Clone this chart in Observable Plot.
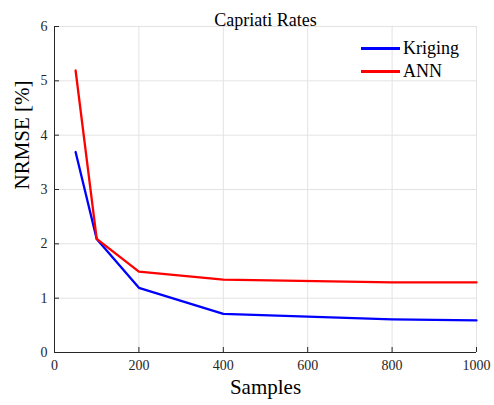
<!DOCTYPE html>
<html><head><meta charset="utf-8">
<script src="https://cdn.jsdelivr.net/npm/d3@7"></script>
<script src="https://cdn.jsdelivr.net/npm/@observablehq/plot@0.6"></script>
<style>
body{margin:0;background:#fff;}
#wrap{position:relative;width:494px;height:405px;font-family:"Liberation Serif",serif;color:#000;}
#wrap svg text{font-family:"Liberation Serif",serif;}
#legend{position:absolute;left:361px;top:37px;font-size:18px;line-height:23px;}
#legend .row{display:flex;align-items:center;height:23px;}
#legend .sw{display:inline-block;width:39px;height:2.5px;margin-right:3px;}
</style></head><body><div id="wrap"><div id="legend"></div></div>
<script>
const samples = [50, 100, 200, 400, 800, 1000];
const kriging = [3.69, 2.09, 1.19, 0.71, 0.61, 0.59];
const ann = [5.19, 2.09, 1.49, 1.34, 1.29, 1.29];
const xTicks = [0, 200, 400, 600, 800, 1000];
const yTicks = [0, 1, 2, 3, 4, 5, 6];
const seriesNames = ["Kriging", "ANN"];
const seriesColors = ["#0000ff", "#ff0000"];
const titleText = "Capriati Rates";
const xLabel = "Samples";
const yLabel = "NRMSE [%]";

const W = 494, H = 405, mL = 54, mR = 18, mT = 26, mB = 53;
const innerW = W - mL - mR, innerH = H - mT - mB;
const FONT = '"Liberation Serif", serif';

const rows = [];
[kriging, ann].forEach((vals, si) => samples.forEach((s, i) => rows.push({series: seriesNames[si], x: s, y: vals[i]})));

const axisColor = "#262626";
const gridColor = "#e3e3e3";

const chart = Plot.plot({
  width: W, height: H,
  marginLeft: mL, marginRight: mR, marginTop: mT, marginBottom: mB,
  style: {fontFamily: FONT, background: "#fff", overflow: "visible"},
  x: {domain: [0, 1000], ticks: xTicks, label: null},
  y: {domain: [0, 6], ticks: yTicks, label: null},
  color: {domain: seriesNames, range: seriesColors},
  marks: [
    Plot.gridX(xTicks, {stroke: gridColor, strokeOpacity: 1}),
    Plot.gridY(yTicks, {stroke: gridColor, strokeOpacity: 1}),
    Plot.tickX(xTicks, {x: d => d, insetTop: innerH - 5, stroke: axisColor}),
    Plot.tickY(yTicks, {y: d => d, insetRight: innerW - 5, stroke: axisColor}),
    Plot.ruleY([0], {stroke: axisColor}),
    Plot.ruleX([0], {stroke: axisColor}),
    Plot.axisX(xTicks, {tickSize: 0, tickPadding: 8, fontSize: 14, fontFamily: FONT, fill: axisColor, label: null, tickFormat: d => String(d)}),
    Plot.axisY(yTicks, {tickSize: 0, tickPadding: 7, fontSize: 14, fontFamily: FONT, fill: axisColor, label: null, tickFormat: d => String(d)}),
    Plot.line(rows, {x: "x", y: "y", z: "series", stroke: "series", strokeWidth: 2.3}),
    Plot.text([titleText], {text: d => d, frameAnchor: "top", dy: -13, fontSize: 18, fontFamily: FONT, fill: "#000"}),
    Plot.text([xLabel], {text: d => d, frameAnchor: "bottom", dy: 41, fontSize: 21, fontFamily: FONT, fill: "#000"}),
    Plot.text([yLabel], {text: d => d, frameAnchor: "left", dx: -32, rotate: -90, fontSize: 21, fontFamily: FONT, fill: "#000"})
  ]
});
document.getElementById("wrap").prepend(chart);

const legend = document.getElementById("legend");
seriesNames.forEach((n, i) => {
  const r = document.createElement("div");
  r.className = "row";
  const sw = document.createElement("span");
  sw.className = "sw";
  sw.style.background = seriesColors[i];
  const t = document.createElement("span");
  t.textContent = n;
  r.append(sw, t);
  legend.append(r);
});
</script></body></html>
